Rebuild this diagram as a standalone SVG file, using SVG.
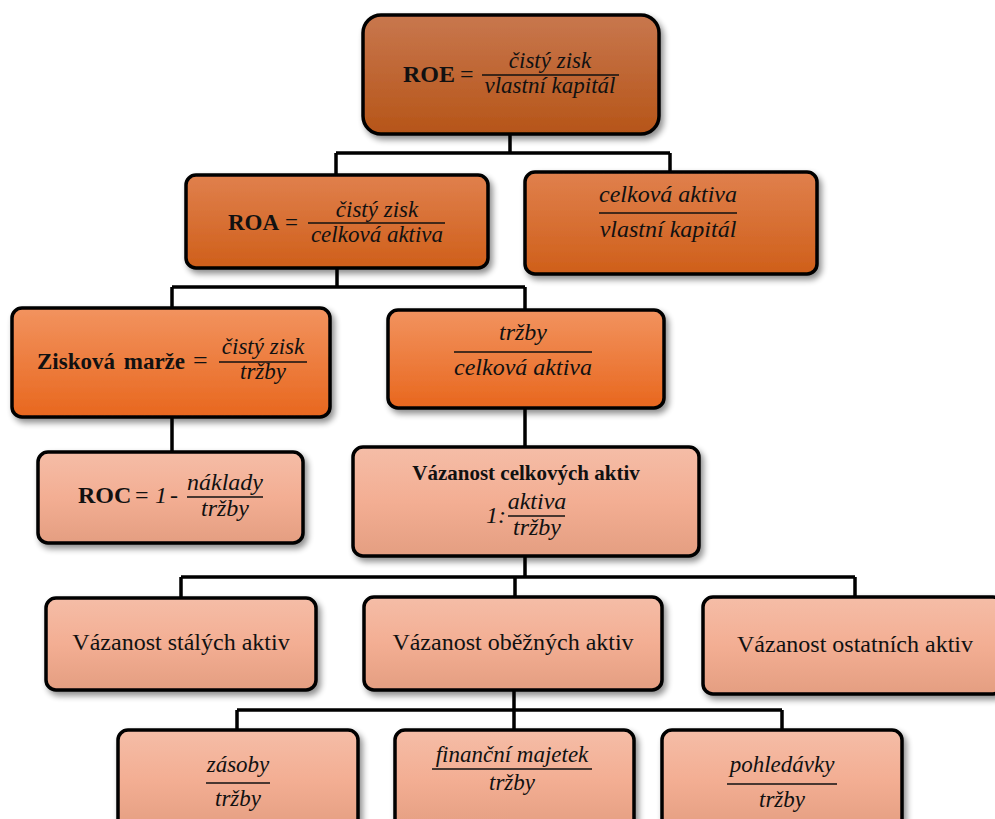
<svg xmlns="http://www.w3.org/2000/svg" width="995" height="819" viewBox="0 0 995 819">
  <style>
    .box { stroke: #000; stroke-width: 3.5; filter: url(#shadow); }
    text { font-family: "Liberation Serif", Tinos, "Noto Serif", "DejaVu Serif", "Times New Roman", serif; fill: #111; }
    .b { font-weight: bold; }
    .i { font-style: italic; }
    .mid { text-anchor: middle; }
    .bar { stroke: #111; stroke-width: 1.6; }
    .conn { fill: none; stroke: #000; stroke-width: 3.5; }
  </style>
  <defs>
    <linearGradient id="g1" x1="0" y1="0" x2="0" y2="1">
      <stop offset="0" stop-color="#c8774e"/>
      <stop offset="1" stop-color="#b65518"/>
    </linearGradient>
    <linearGradient id="g2" x1="0" y1="0" x2="0" y2="1">
      <stop offset="0" stop-color="#e0804d"/>
      <stop offset="1" stop-color="#cf5f1a"/>
    </linearGradient>
    <linearGradient id="g3" x1="0" y1="0" x2="0" y2="1">
      <stop offset="0" stop-color="#f2935f"/>
      <stop offset="1" stop-color="#e8671e"/>
    </linearGradient>
    <linearGradient id="g4" x1="0" y1="0" x2="0" y2="1">
      <stop offset="0" stop-color="#f5bda7"/>
      <stop offset="0.5" stop-color="#f3ae93"/>
      <stop offset="1" stop-color="#e49e81"/>
    </linearGradient>
    <filter id="shadow" x="-10%" y="-10%" width="125%" height="130%">
      <feGaussianBlur in="SourceAlpha" stdDeviation="3"/>
      <feOffset dx="3" dy="4" result="b"/>
      <feComponentTransfer><feFuncA type="linear" slope="0.45"/></feComponentTransfer>
      <feMerge><feMergeNode/><feMergeNode in="SourceGraphic"/></feMerge>
    </filter>
  </defs>

  <g id="connectors">
    <path class="conn" d="M510 134 V153 M336 153 H670 M336 153 V175 M670 153 V172"/>
    <path class="conn" d="M337 268 V287 M172 287 H525 M172 287 V308 M525 287 V310"/>
    <path class="conn" d="M172 417 V452"/>
    <path class="conn" d="M525 408 V447"/>
    <path class="conn" d="M525 556 V577 M181 577 H855 M181 577 V598 M515 577 V597 M855 577 V597"/>
    <path class="conn" d="M514 690 V710 M237 710 H782 M237 710 V730 M514 710 V730 M782 710 V730"/>
  </g>

  <g id="roe">
    <rect class="box" x="363" y="15" width="296" height="119" rx="18" fill="url(#g1)"/>
    <text class="b" x="403" y="82" font-size="24">ROE</text>
    <text x="460" y="82" font-size="24">=</text>
    <text class="i mid" x="550" y="68" font-size="23">čistý zisk</text>
    <line class="bar" x1="482" y1="75" x2="619" y2="75"/>
    <text class="i mid" x="550" y="93" font-size="23">vlastní kapitál</text>
  </g>

  <g id="roa">
    <rect class="box" x="186" y="175" width="302" height="93" rx="10" fill="url(#g2)"/>
    <text class="b" x="228" y="230" font-size="23">ROA</text>
    <text x="285" y="230" font-size="23">=</text>
    <text class="i mid" x="377" y="217" font-size="23">čistý zisk</text>
    <line class="bar" x1="308" y1="223" x2="445" y2="223"/>
    <text class="i mid" x="377" y="242" font-size="23">celková aktiva</text>
  </g>

  <g id="leverage">
    <rect class="box" x="525" y="172" width="292" height="102" rx="10" fill="url(#g2)"/>
    <text class="i mid" x="668" y="202" font-size="24">celková aktiva</text>
    <line class="bar" x1="599" y1="213" x2="737" y2="213"/>
    <text class="i mid" x="668" y="237" font-size="24">vlastní kapitál</text>
  </g>

  <g id="margin">
    <rect class="box" x="12" y="308" width="318" height="109" rx="10" fill="url(#g3)"/>
    <text class="b" x="37" y="369" font-size="23" word-spacing="3">Zisková marže</text>
    <text x="193" y="369" font-size="26">=</text>
    <text class="i mid" x="263" y="354" font-size="23">čistý zisk</text>
    <line class="bar" x1="219" y1="362" x2="307" y2="362"/>
    <text class="i mid" x="263" y="379" font-size="23">tržby</text>
  </g>

  <g id="turnover">
    <rect class="box" x="388" y="310" width="276" height="98" rx="10" fill="url(#g3)"/>
    <text class="i mid" x="523" y="340" font-size="24">tržby</text>
    <line class="bar" x1="454" y1="352" x2="592" y2="352"/>
    <text class="i mid" x="523" y="375" font-size="24">celková aktiva</text>
  </g>

  <g id="roc">
    <rect class="box" x="38" y="452" width="265" height="91" rx="10" fill="url(#g4)"/>
    <text class="b" x="78" y="503" font-size="24">ROC</text>
    <text x="135" y="503" font-size="24">=</text>
    <text class="i" x="155" y="503" font-size="24">1</text>
    <text x="170" y="503" font-size="24">-</text>
    <text class="i mid" x="225" y="490" font-size="24">náklady</text>
    <line class="bar" x1="187" y1="497" x2="263" y2="497"/>
    <text class="i mid" x="225" y="516" font-size="24">tržby</text>
  </g>

  <g id="total-assets">
    <rect class="box" x="353" y="447" width="346" height="109" rx="10" fill="url(#g4)"/>
    <text class="b mid" x="526" y="480" font-size="21">Vázanost celkových aktiv</text>
    <text class="i" x="486" y="523" font-size="24">1:</text>
    <text class="i mid" x="537" y="509" font-size="24">aktiva</text>
    <line class="bar" x1="508" y1="516" x2="565" y2="516"/>
    <text class="i mid" x="537" y="535" font-size="24">tržby</text>
  </g>

  <g id="fixed-assets">
    <rect class="box" x="46" y="598" width="270" height="92" rx="10" fill="url(#g4)"/>
    <text class="mid" x="181" y="650" font-size="24">Vázanost stálých aktiv</text>
  </g>

  <g id="current-assets">
    <rect class="box" x="364" y="597" width="298" height="93" rx="10" fill="url(#g4)"/>
    <text class="mid" x="513" y="650" font-size="24">Vázanost oběžných aktiv</text>
  </g>

  <g id="other-assets">
    <rect class="box" x="703" y="597" width="300" height="97" rx="10" fill="url(#g4)"/>
    <text class="mid" x="855" y="652" font-size="24">Vázanost ostatních aktiv</text>
  </g>

  <g id="inventory">
    <rect class="box" x="118" y="730" width="240" height="100" rx="10" fill="url(#g4)"/>
    <text class="i mid" x="238" y="772" font-size="23">zásoby</text>
    <line class="bar" x1="206" y1="783" x2="270" y2="783"/>
    <text class="i mid" x="238" y="806" font-size="23">tržby</text>
  </g>

  <g id="financial">
    <rect class="box" x="395" y="730" width="239" height="100" rx="10" fill="url(#g4)"/>
    <text class="i mid" x="512" y="762" font-size="23">finanční majetek</text>
    <line class="bar" x1="432" y1="769" x2="592" y2="769"/>
    <text class="i mid" x="512" y="790" font-size="23">tržby</text>
  </g>

  <g id="receivables">
    <rect class="box" x="662" y="730" width="240" height="100" rx="10" fill="url(#g4)"/>
    <text class="i mid" x="782" y="772" font-size="23">pohledávky</text>
    <line class="bar" x1="727" y1="784" x2="837" y2="784"/>
    <text class="i mid" x="782" y="807" font-size="23">tržby</text>
  </g>
</svg>
